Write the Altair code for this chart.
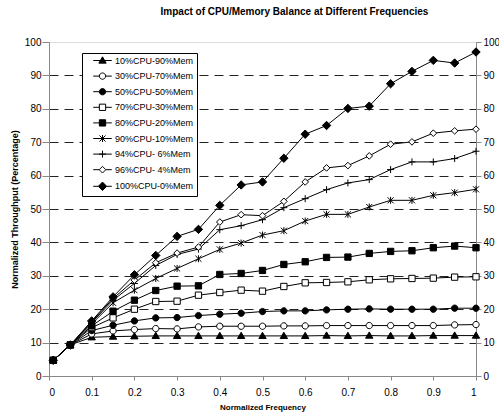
import altair as alt
import pandas as pd

# Normalized clock frequency (x) and throughput for each CPU/memory mix
freq = [0.01, 0.05, 0.1, 0.15, 0.2, 0.25, 0.3, 0.35, 0.4, 0.45, 0.5,
        0.55, 0.6, 0.65, 0.7, 0.75, 0.8, 0.85, 0.9, 0.95, 1.0]

mixes = ["10%CPU-90%Mem", "30%CPU-70%Mem", "50%CPU-50%Mem", "70%CPU-30%Mem",
         "80%CPU-20%Mem", "90%CPU-10%Mem", "94%CPU- 6%Mem", "96%CPU- 4%Mem",
         "100%CPU-0%Mem"]

cpu10 = [4.7, 9.3, 11.6, 11.8, 11.9, 12.0, 12.0, 12.0, 12.0, 12.0, 12.0,
         12.0, 12.0, 12.1, 12.0, 12.1, 12.0, 12.0, 12.1, 12.1, 12.1]
cpu30 = [4.7, 9.3, 12.6, 13.5, 13.9, 14.2, 14.1, 14.7, 14.9, 14.9, 14.9,
         15.0, 15.0, 15.1, 15.1, 15.1, 15.1, 15.1, 15.1, 15.3, 15.4]
cpu50 = [4.7, 9.3, 13.6, 15.2, 16.5, 17.4, 17.5, 18.1, 18.5, 18.8, 19.3,
         19.5, 19.5, 19.8, 20.0, 20.1, 20.0, 20.0, 20.0, 20.3, 20.3]
cpu70 = [4.7, 9.3, 14.5, 17.4, 20.0, 22.3, 22.4, 24.2, 25.0, 25.7, 25.4,
         26.8, 27.9, 28.0, 28.2, 28.8, 29.1, 29.2, 29.3, 29.6, 29.7]
cpu80 = [4.7, 9.3, 15.0, 19.4, 22.7, 25.6, 26.9, 27.0, 30.4, 30.7, 31.6,
         33.4, 34.2, 35.5, 35.6, 36.7, 37.3, 37.5, 38.4, 38.9, 38.4]
cpu90 = [4.7, 9.3, 15.6, 21.9, 25.7, 29.2, 32.2, 35.1, 37.9, 39.8, 42.2,
         43.5, 46.4, 48.4, 48.4, 50.6, 52.6, 52.6, 54.1, 54.9, 55.9]
cpu94 = [4.7, 9.3, 16.0, 22.7, 27.7, 33.1, 36.4, 38.0, 43.8, 45.0, 46.8,
         50.4, 53.1, 55.8, 57.8, 58.8, 61.8, 64.1, 64.1, 65.1, 67.3]
cpu96 = [4.7, 9.3, 16.3, 23.2, 28.7, 33.9, 36.8, 38.6, 46.1, 48.3, 48.0,
         52.3, 58.1, 62.3, 63.0, 65.9, 69.4, 70.1, 72.7, 73.4, 73.9]
cpu100 = [4.7, 9.3, 16.5, 23.7, 30.3, 36.1, 41.8, 43.9, 51.1, 57.2, 58.1,
          65.2, 72.4, 75.0, 80.1, 80.8, 87.5, 91.2, 94.5, 93.7, 97.0]

series = [cpu10, cpu30, cpu50, cpu70, cpu80, cpu90, cpu94, cpu96, cpu100]

rows = []
for name, vals in zip(mixes, series):
    for f, v in zip(freq, vals):
        rows.append({"freq": f, "mix": name, "tp": v})
df = pd.DataFrame(rows)

# Marker outlines (unit box, scaled by the symbol size)
tri = "M0,-1.05L1.05,0.75L-1.05,0.75Z"
circ = "M-0.9,0A0.9,0.9 0 1,1 0.9,0A0.9,0.9 0 1,1 -0.9,0Z"
sq = "M-0.9,-0.9L0.9,-0.9L0.9,0.9L-0.9,0.9Z"
star = "M0,-1L0,1M-0.87,-0.87L0.87,0.87M-0.87,0.87L0.87,-0.87"
plus = "M-1,0L1,0M0,-1L0,1"
odiam = "M-0.95,0L0,-0.95L0.95,0L0,0.95Z"
fdiam = "M-1.2,0L0,-1.2L1.2,0L0,1.2Z"

markers = [tri, circ, circ, sq, sq, star, plus, odiam, fdiam]
fills = ["black", "white", "black", "white", "black", "black", "black", "white", "black"]


def keyed(path, r):
    # legend key: marker with a line segment on each side
    return path + f"M-2.65,0L-{r},0M{r},0L2.65,0"


key_shapes = [keyed(tri, 0.6), keyed(circ, 0.9), keyed(circ, 0.9), keyed(sq, 0.9),
              keyed(sq, 0.9), keyed(star, 0), keyed(plus, 0), keyed(odiam, 0.95),
              keyed(fdiam, 1.2)]

FONT = "Liberation Sans"

x_enc = alt.X(
    "freq:Q",
    scale=alt.Scale(domain=[0, 1], nice=False, zero=False),
    axis=alt.Axis(
        values=[0, 0.1, 0.2, 0.3, 0.4, 0.5, 0.6, 0.7, 0.8, 0.9, 1.0],
        format=".1~f", title="Normalized Frequency", grid=False,
        tickSize=4, labelPadding=7, titlePadding=6, titleFontSize=8,
    ),
)
y_scale = alt.Scale(domain=[0, 100], nice=False)
y_ticks = list(range(0, 101, 10))

left_axis = alt.Axis(
    values=y_ticks, orient="left", title="Normalized Throughput (Percentage)",
    tickSize=7, labelPadding=1, titlePadding=5, titleFontSize=9, grid=True,
    gridDash=[9, 6], gridColor="#222",
    gridOpacity={"condition": {"test": "datum.value === 0 || datum.value === 100",
                               "value": 0}, "value": 1},
)
right_axis = alt.Axis(values=y_ticks, orient="right", title=None, tickSize=5,
                      labelPadding=2, grid=False)

base = alt.Chart(df)

lines = base.mark_line(color="black", strokeWidth=1).encode(
    x=x_enc,
    y=alt.Y("tp:Q", scale=y_scale, axis=left_axis),
    detail="mix:N",
)

points = base.mark_point(size=49, filled=True, stroke="black", strokeWidth=1,
                         opacity=1).encode(
    x=x_enc,
    y=alt.Y("tp:Q", scale=y_scale, axis=right_axis),
    shape=alt.Shape("mix:N", scale=alt.Scale(domain=mixes, range=markers), legend=None),
    fill=alt.Fill("mix:N", scale=alt.Scale(domain=mixes, range=fills), legend=None),
)

legend = alt.Legend(
    title=None, orient="none", legendX=33, legendY=11, padding=3,
    fillColor="white", strokeColor="black", symbolSize=49, symbolStrokeWidth=1,
    symbolStrokeColor="black", symbolOpacity=1, symbolOffset=13, labelOffset=8,
    rowPadding=4.6, labelFont=FONT, labelFontSize=9, labelColor="black",
    labelExpr="datum.label + '\u00a0\u00a0\u00a0'",
)

key = base.mark_point(size=49, filled=True, strokeWidth=1, opacity=0).encode(
    x=x_enc,
    y=alt.Y("tp:Q", scale=y_scale, axis=None),
    shape=alt.Shape("mix:N", scale=alt.Scale(domain=mixes, range=key_shapes),
                    sort=mixes, legend=legend),
    fill=alt.Fill("mix:N", scale=alt.Scale(domain=mixes, range=fills),
                  sort=mixes, legend=legend),
    stroke=alt.Stroke("mix:N", scale=alt.Scale(domain=mixes, range=["black"] * 9),
                      sort=mixes, legend=legend),
)

chart = (
    alt.layer(lines, points, key)
    .resolve_scale(shape="independent", fill="independent", stroke="independent")
    .resolve_axis(y="independent")
    .properties(
        width=427, height=334,
        padding={"left": 49, "top": 42, "right": 23, "bottom": 39},
        autosize=alt.AutoSizeParams(type="none"),
        title=alt.TitleParams(
            "Impact of CPU/Memory Balance at Different Frequencies",
            font=FONT, fontSize=10, fontWeight="bold", color="black",
            anchor="middle", dx=32, offset=10, baseline="bottom",
        ),
    )
    .configure_view(stroke="#888", strokeWidth=1)
    .configure_axis(
        labelFont=FONT, labelFontSize=8, labelFontWeight="bold", labelColor="black",
        titleFont=FONT, titleFontWeight="bold", titleColor="black",
        domainColor="black", tickColor="black", domainWidth=1, tickWidth=1,
    )
    .configure(background="white")
)

chart.save("out.html", embed_options={"renderer": "svg", "actions": False})
